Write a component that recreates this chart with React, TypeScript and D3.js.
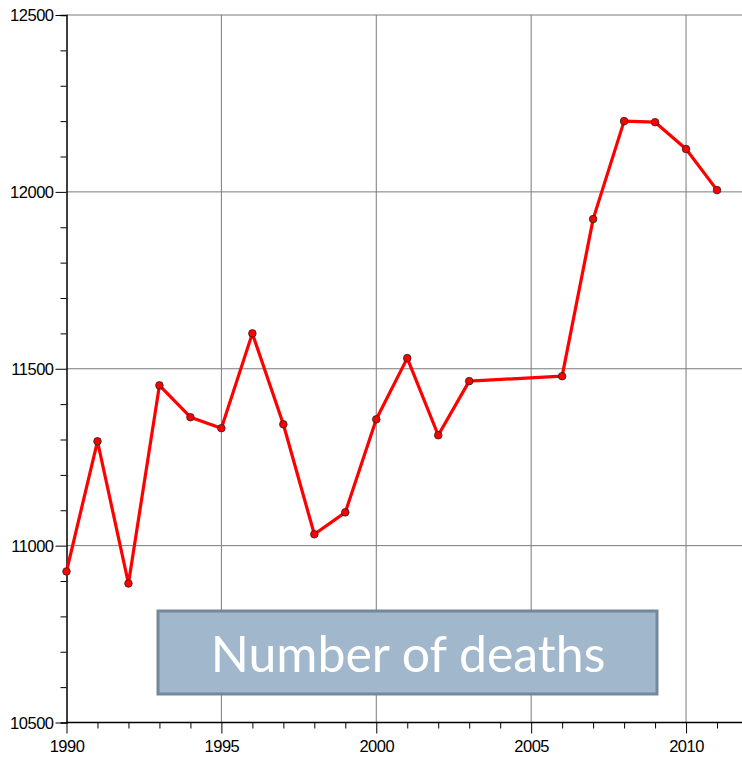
import React, { useEffect, useRef } from 'react'
import * as d3 from 'd3'

// data
const years = [1990, 1991, 1992, 1993, 1994, 1995, 1996, 1997, 1998, 1999, 2000, 2001, 2002, 2003, 2006, 2007, 2008, 2009, 2010, 2011]
const deaths = [10927, 11295, 10893, 11453, 11363, 11332, 11600, 11343, 11032, 11094, 11357, 11530, 11312, 11465, 11479, 11923, 12200, 12197, 12121, 12005]
const yTicks = [10500, 11000, 11500, 12000, 12500]
const xTicks = [1990, 1995, 2000, 2005, 2010]
const label = 'Number of deaths'

function App() {
  const svgRef = useRef<SVGSVGElement>(null)
  const W = 742, H = 758
  const left = 66.5, right = 742, top = 15, bottom = 722.5

  useEffect(() => {
    const svg = d3.select(svgRef.current)
    svg.selectAll('*').remove()

    const x = d3.scaleLinear().domain([1990, 2011.806]).range([left, right])
    const y = d3.scaleLinear().domain([10500, 12500]).range([bottom, top])

    // grid
    svg.append('g').selectAll('line').data(yTicks.slice(1)).join('line')
      .attr('x1', left).attr('x2', right)
      .attr('y1', d => y(d)).attr('y2', d => y(d))
      .attr('stroke', '#7a7a7a').attr('stroke-width', 1)
    svg.append('g').selectAll('line').data(xTicks.slice(1)).join('line')
      .attr('x1', d => x(d)).attr('x2', d => x(d))
      .attr('y1', top).attr('y2', bottom)
      .attr('stroke', '#7a7a7a').attr('stroke-width', 1)

    // y axis
    const yAxis = svg.append('g').attr('transform', `translate(${left},0)`)
    yAxis.call(d3.axisLeft(y).tickValues(d3.range(10500, 12501, 100)).tickSize(6).tickFormat(() => ''))
    yAxis.call(g => g.select('.domain').attr('stroke', '#000').attr('stroke-width', 1.5))
    yAxis.selectAll('.tick line').attr('stroke', '#000')
      .attr('x2', (d: any) => (d % 500 === 0 ? -11 : -6))
    yAxis.selectAll('.tick').filter((d: any) => d % 500 === 0).append('text')
      .attr('x', -13).attr('dy', '0.35em')
      .attr('text-anchor', 'end').attr('fill', '#000')
      .attr('font-family', 'Liberation Sans, Arial, sans-serif').attr('font-size', 16.5)
      .attr('letter-spacing', -0.5)
      .text((d: any) => d)

    // x axis
    const xAxis = svg.append('g').attr('transform', `translate(0,${bottom})`)
    xAxis.call(d3.axisBottom(x).tickValues(d3.range(1990, 2012, 1)).tickSize(6).tickFormat(() => ''))
    xAxis.call(g => g.select('.domain').attr('stroke', '#000').attr('stroke-width', 1.5).attr('d', `M${left},0H${right}`))
    xAxis.selectAll('.tick line').attr('stroke', '#000')
      .attr('y2', (d: any) => (d % 5 === 0 ? 11 : 6))
    xAxis.selectAll('.tick').filter((d: any) => d % 5 === 0).append('text')
      .attr('y', 29).attr('text-anchor', 'middle').attr('fill', '#000')
      .attr('font-family', 'Liberation Sans, Arial, sans-serif').attr('font-size', 16.5)
      .attr('letter-spacing', -0.5)
      .text((d: any) => d)

    // line and points
    const pts = years.map((yr, i) => [yr, deaths[i]] as [number, number])
    const line = d3.line<[number, number]>().x(d => x(d[0])).y(d => y(d[1]))
    svg.append('path').datum(pts)
      .attr('fill', 'none').attr('stroke', '#ff0000').attr('stroke-width', 3.2)
      .attr('stroke-linejoin', 'round')
      .attr('d', line)
    svg.append('g').selectAll('circle').data(pts).join('circle')
      .attr('cx', d => x(d[0])).attr('cy', d => y(d[1])).attr('r', 3.8)
      .attr('fill', '#ff0000').attr('stroke', '#222').attr('stroke-width', 0.8)

    // label box
    svg.append('rect')
      .attr('x', 158).attr('y', 611).attr('width', 499).attr('height', 83)
      .attr('fill', '#a1b7cc').attr('stroke', '#75889a').attr('stroke-width', 3)
    svg.append('text')
      .attr('x', 408).attr('y', 672).attr('text-anchor', 'middle')
      .attr('fill', '#fff').attr('font-family', 'Lato, sans-serif').attr('font-size', 50)
      .attr('font-weight', 400)
      .text(label)
  }, [])

  return (
    <svg ref={svgRef} width={W} height={H}
      style={{ position: 'absolute', left: 0, top: 0, background: '#fff' }} />
  )
}

export default App
